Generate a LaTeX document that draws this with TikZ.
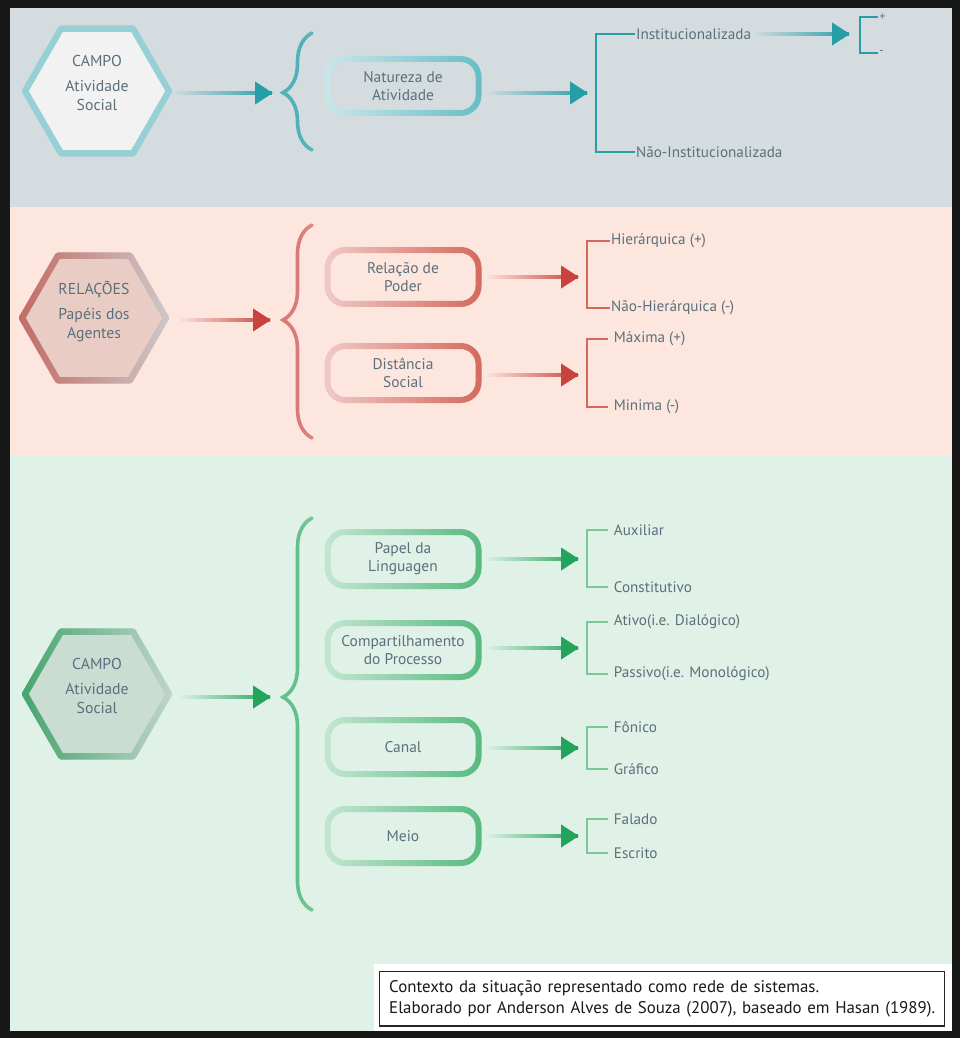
\documentclass[tikz,border=0pt]{standalone}
\usepackage{fontspec}
\setmainfont{PT Sans}
\usepackage{tikz}
\usetikzlibrary{positioning,arrows.meta,calc,shapes.geometric,decorations.pathreplacing,fadings}
\definecolor{framec}{RGB}{24,24,24}
\definecolor{bgtop}{RGB}{213,220,224}
\definecolor{bgmid}{RGB}{252,230,222}
\definecolor{bgbot}{RGB}{224,241,231}
\definecolor{txtc}{RGB}{92,112,124}
\definecolor{tealc}{RGB}{38,158,168}
\definecolor{tealbox}{RGB}{104,190,198}
\definecolor{teallt}{RGB}{150,208,213}
\definecolor{hexfilla}{RGB}{242,242,242}
\definecolor{redc}{RGB}{200,66,62}
\definecolor{redbox}{RGB}{212,106,94}
\definecolor{redhex}{RGB}{196,108,100}
\definecolor{redlt}{RGB}{206,200,202}
\definecolor{hexfillb}{RGB}{233,205,197}
\definecolor{greenc}{RGB}{34,164,92}
\definecolor{greenbox}{RGB}{88,186,128}
\definecolor{greenhex}{RGB}{70,166,110}
\definecolor{greenlt}{RGB}{192,212,204}
\definecolor{hexfillc}{RGB}{202,221,210}
\tikzfading[name=fadebox, left color=transparent!92, right color=transparent!0]
\tikzfading[name=fadeshaft, left color=transparent!100, right color=transparent!0]
\tikzfading[name=fadeout, left color=transparent!0, right color=transparent!100]
\pgfdeclareverticalshading{braceends}{100bp}{color(0bp)=(transparent!100); color(6bp)=(transparent!100); color(28bp)=(transparent!0); color(72bp)=(transparent!0); color(94bp)=(transparent!100); color(100bp)=(transparent!100)}
\tikzfading[name=fadeends, shading=braceends]
\tikzset{
  hexa/.style={regular polygon, regular polygon sides=6, minimum size=36mm, line width=1.6mm,
               outer sep=0pt, inner sep=0pt, line join=round, align=center, text=txtc,
               font=\fontsize{11.2}{14}\selectfont},
  hexedge/.style={draw=#1, line width=1.6mm, line join=round, path fading=fadeout},
  box/.style={rounded corners=4.5mm, minimum width=37.75mm, minimum height=13.5mm, outer sep=0pt,
              line width=1.5mm, draw=#1!30!white, align=center, text=txtc,
              font=\fontsize{11}{13}\selectfont},
  boxedge/.style={draw=#1, line width=1.5mm, rounded corners=4.5mm, path fading=fadebox},
  arr/.style={draw=#1, line width=1mm, shorten >=3mm, path fading=fadeshaft},
  tip/.style={draw=#1, line width=1mm, -{Triangle[length=4.5mm,width=5.5mm]}},
  brc/.style 2 args={draw=#1, line width=0.9mm, line cap=round, decorate,
              decoration={brace, amplitude=7.25mm, aspect=#2}, path fading=fadeends},
  tick/.style={draw=#1, line width=0.5mm},
  lbl/.style={text=txtc, font=\fontsize{10.8}{12}\selectfont, anchor=west, inner xsep=0.2mm, inner ysep=0.5mm},
  lblg/.style={lbl, inner xsep=1.4mm},
  pm/.style={text=txtc, font=\fontsize{8.5}{9}\selectfont, anchor=west, inner sep=0.3mm},
  capbox/.style={draw=black!85, line width=0.3mm, fill=white, anchor=north west, text width=136.5mm,
              align=left, inner xsep=2.4mm, inner ysep=2.3mm, font=\fontsize{12}{14.4}\selectfont, text=black!90}
}
\begin{document}
\begin{tikzpicture}[x=0.25mm, y=-0.25mm]
\useasboundingbox (0,0) rectangle (960,1038);
\fill[framec] (0,0) rectangle (960,1038);
\fill[bgtop] (10,8) rectangle (952,207);
\fill[bgmid] (10,207) rectangle (952,456);
\fill[bgbot] (10,456) rectangle (952,1031);
\fill[white] (374,964) rectangle (952,1031);

% campo
\node[hexa, draw=teallt, fill=hexfilla] (h1) at (97,91) {CAMPO\\[1.2mm]Atividade\\Social\\[-1mm]\mbox{}};
\draw[brc={tealc!80}{0.49}] (312,150) -- (312,33);
\coordinate (t1) at (283,93);
\draw[arr=tealc] ($(h1.east |- t1)+(4,0)$) -- ($(t1)+(-10,0)$) coordinate (a1);
\draw[tip=tealc] ($(a1)+(-1,0)$) -- (a1);
\node[box=tealbox] (nat) at (403,86) {Natureza de\\Atividade};
\draw[boxedge=tealbox] (nat.south west) rectangle (nat.north east);
\node[lbl] (inst) at (635,34) {Institucionalizada};
\node[lbl] (ninst) at (635,152) {Não-Institucionalizada};
\coordinate (k1) at (596,93);
\draw[tick=tealc] (inst.west) -| (k1) |- (ninst.west);
\draw[arr=tealc] ($(nat.east |- k1)+(8,0)$) -- ($(k1)+(-8,0)$) coordinate (a2);
\draw[tip=tealc] ($(a2)+(-1,0)$) -- (a2);
\node[pm] (plus) at (878,17) {+};
\node[pm] (minus) at (878,53) {-};
\coordinate (k0) at (860,35);
\draw[tick=tealc, line width=0.3mm] (plus.west) -| (k0) |- (minus.west);
\draw[arr=tealc] ($(inst.east)+(2,0)$) -- ($(k0 |- inst.east)+(-10,0)$) coordinate (a3);
\draw[tip=tealc] ($(a3)+(-1,0)$) -- (a3);

% relacoes
\node[hexa, draw=redlt, fill=hexfillb] (h2) at (94,318) {RELAÇÕES\\[1.2mm]Papéis dos\\Agentes\\[-1mm]\mbox{}};
\draw[hexedge=redhex] (h2.corner 1) -- (h2.corner 2) -- (h2.corner 3) -- (h2.corner 4)
  -- (h2.corner 5) -- (h2.corner 6) -- cycle;
\draw[brc={redc!70}{0.554}] (312,438) -- (312,225);
\coordinate (t2) at (283,320);
\draw[arr=redc] ($(h2.east |- t2)+(14,0)$) -- ($(t2)+(-12,0)$) coordinate (a4);
\draw[tip=redc] ($(a4)+(-1,0)$) -- (a4);
\node[box=redbox] (rel) at (403,277) {Relação de\\Poder};
\draw[boxedge=redbox] (rel.south west) rectangle (rel.north east);
\node[box=redbox] (dist) at (403,373) {Distância\\Social};
\draw[boxedge=redbox] (dist.south west) rectangle (dist.north east);
\node[lbl] (hier) at (610,241) {Hierárquica (+)};
\node[lbl] (nhier) at (610,308) {Não-Hierárquica (-)};
\node[lblg] (max) at (608,339) {Máxima (+)};
\node[lblg] (min) at (608,407) {Minima (-)};
\coordinate (k21) at (587,277);
\coordinate (k22) at (587,375);
\draw[tick=redbox] (hier.west) -| (k21) |- (nhier.west);
\draw[tick=redbox] (max.west) -| (k22) |- (min.west);
\draw[arr=redc] ($(rel.east |- k21)+(8,0)$) -- ($(k21)+(-8,0)$) coordinate (a5);
\draw[tip=redc] ($(a5)+(-1,0)$) -- (a5);
\draw[arr=redc] ($(dist.east |- k22)+(8,0)$) -- ($(k22)+(-8,0)$) coordinate (a6);
\draw[tip=redc] ($(a6)+(-1,0)$) -- (a6);

% modo
\node[hexa, draw=greenlt, fill=hexfillc] (h3) at (97,694) {CAMPO\\[1.2mm]Atividade\\Social\\[-1mm]\mbox{}};
\draw[hexedge=greenhex] (h3.corner 1) -- (h3.corner 2) -- (h3.corner 3) -- (h3.corner 4)
  -- (h3.corner 5) -- (h3.corner 6) -- cycle;
\draw[brc={greenc!70}{0.543}] (312,910) -- (312,518);
\coordinate (t3) at (283,697);
\draw[arr=greenc] ($(h3.east |- t3)+(12,0)$) -- ($(t3)+(-12,0)$) coordinate (a7);
\draw[tip=greenc] ($(a7)+(-1,0)$) -- (a7);
\node[box=greenbox] (pap) at (403,559) {Papel da\\Linguagen};
\draw[boxedge=greenbox] (pap.south west) rectangle (pap.north east);
\node[box=greenbox] (comp) at (403,650) {Compartilhamento\\do Processo};
\draw[boxedge=greenbox] (comp.south west) rectangle (comp.north east);
\node[box=greenbox] (can) at (403,747) {Canal};
\draw[boxedge=greenbox] (can.south west) rectangle (can.north east);
\node[box=greenbox] (meio) at (403,836) {Meio};
\draw[boxedge=greenbox] (meio.south west) rectangle (meio.north east);
\node[lblg] (aux) at (608,530) {Auxiliar};
\node[lblg] (cons) at (608,587) {Constitutivo};
\node[lblg] (ativ) at (608,622) {Ativo(i.e. Dialógico)};
\node[lblg] (pass) at (608,674) {Passivo(i.e. Monológico)};
\node[lblg] (fon) at (608,727) {Fônico};
\node[lblg] (graf) at (608,769) {Gráfico};
\node[lblg] (fal) at (608,819) {Falado};
\node[lblg] (esc) at (608,853) {Escrito};
\coordinate (k31) at (587,559);
\coordinate (k32) at (587,648);
\coordinate (k33) at (587,748);
\coordinate (k34) at (587,836);
\draw[tick=greenbox!80] (aux.west) -| (k31) |- (cons.west);
\draw[tick=greenbox!80] (ativ.west) -| (k32) |- (pass.west);
\draw[tick=greenbox!80] (fon.west) -| (k33) |- (graf.west);
\draw[tick=greenbox!80] (fal.west) -| (k34) |- (esc.west);
\draw[arr=greenc] ($(pap.east |- k31)+(8,0)$) -- ($(k31)+(-8,0)$) coordinate (a8);
\draw[tip=greenc] ($(a8)+(-1,0)$) -- (a8);
\draw[arr=greenc] ($(comp.east |- k32)+(8,0)$) -- ($(k32)+(-8,0)$) coordinate (a9);
\draw[tip=greenc] ($(a9)+(-1,0)$) -- (a9);
\draw[arr=greenc] ($(can.east |- k33)+(8,0)$) -- ($(k33)+(-8,0)$) coordinate (a10);
\draw[tip=greenc] ($(a10)+(-1,0)$) -- (a10);
\draw[arr=greenc] ($(meio.east |- k34)+(8,0)$) -- ($(k34)+(-8,0)$) coordinate (a11);
\draw[tip=greenc] ($(a11)+(-1,0)$) -- (a11);

\node[capbox] (caption) at (379,971) {Contexto da situação representado como rede de sistemas.\\
  Elaborado por Anderson Alves de Souza (2007), baseado em Hasan (1989).};
\end{tikzpicture}
\end{document}
